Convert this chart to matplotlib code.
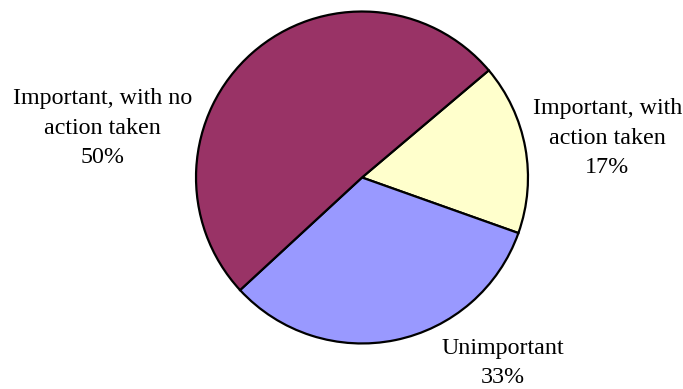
import matplotlib
matplotlib.use("Agg")
import matplotlib.pyplot as plt

labels = ["Important, with\naction taken", "Unimportant", "Important, with no\naction taken"]
values = [16.6, 32.7, 50.7]
pct_labels = ["17%", "33%", "50%"]
colors = ["#FFFFCC", "#9999FF", "#993366"]

# last-line baseline of each label (in units of pie radius)
label_pos = [(1.479, 0.027), (0.849, -1.238), (-1.563, 0.087)]

fig = plt.figure(figsize=(6.83, 3.89), dpi=100)
ax = fig.add_axes([0, 0, 1, 1])
ax.pie(values, colors=colors, startangle=40.2, counterclock=False,
       wedgeprops=dict(edgecolor="black", linewidth=1.6))

for lab, pct, (x, y) in zip(labels, pct_labels, label_pos):
    ax.text(x, y, lab + "\n" + pct, ha="center", va="baseline",
            multialignment="center", fontsize=17.3, family="Liberation Serif",
            linespacing=1.52)

ax.set_xlim(-2.181, 1.934)
ax.set_ylim(-1.274, 1.069)
ax.set_aspect("equal")
ax.axis("off")
fig.savefig("out.png")
